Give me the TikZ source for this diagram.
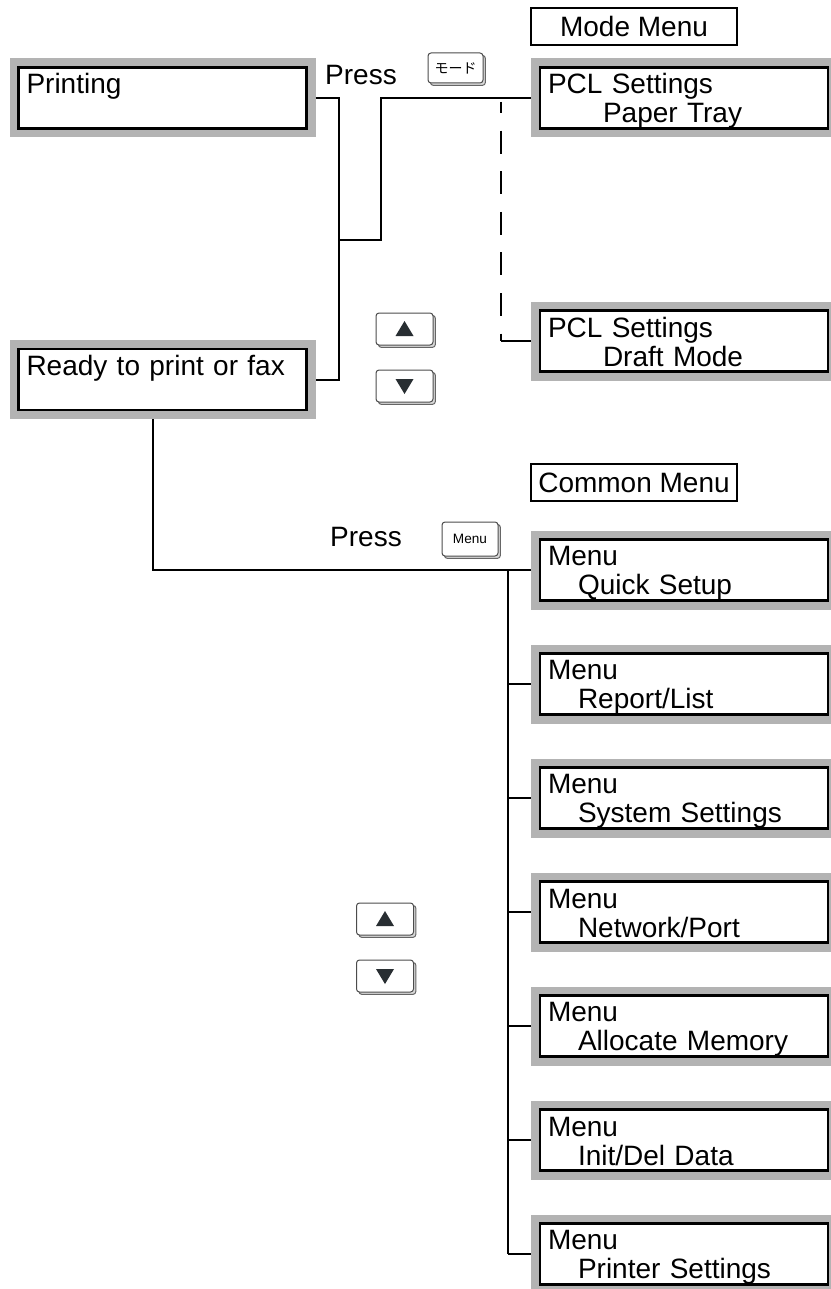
\documentclass[tikz,border=0pt]{standalone}
\usepackage{fontspec}
\setmainfont{Liberation Sans}
\newfontfamily\jpfont{Noto Sans CJK JP}
\usepackage{xcolor}
\usepackage{tikz}
\usetikzlibrary{positioning, shadows}

\definecolor{lcdgray}{RGB}{179,179,179}
\definecolor{keyink}{RGB}{40,46,50}

% two lines of a display panel, second line indented
\newcommand{\lcdlines}[3][0pt]{\rule{0pt}{13pt}#2\\\hspace*{#1}#3\rule[-2.5pt]{0pt}{2.5pt}}

\begin{document}
\begin{tikzpicture}[x=0.5pt, y=-0.5pt, node distance=17.5pt and 10pt,
		every node/.style={font=\fontsize{14}{14.5}\selectfont},
		lcd/.style={draw, line width=1.2pt, fill=white, preaction={draw=lcdgray, line width=9pt},
			minimum width=144pt, minimum height=30.5pt, text width=136pt, inner xsep=4pt, inner ysep=0pt,
			align=left, outer sep=4.5pt},
		title/.style={draw, line width=1pt, minimum width=103pt, minimum height=18.5pt, inner sep=0pt},
		keycap/.style={draw=black!70, line width=0.5pt, fill=white, rounded corners=1.5pt,
			minimum width=28.5pt, minimum height=16pt, inner sep=0pt,
			copy shadow={shadow xshift=1.2pt, shadow yshift=-1.2pt, fill=black!15, draw=black!60}},
		wire/.style={line width=1pt}]
		\useasboundingbox (0,0) rectangle (830,1289);
		
		% Titles
		\node[title] (modettl) at (634, 26.5) {Mode Menu};
		\node[title] (commonttl) at (634, 482.5) {Common Menu};
		
		% Panels
		\node[lcd] (printing) at (162.5, 98) {\lcdlines{Printing}{}};
		\node[lcd] (ready) at (162.5, 379.5) {\lcdlines{Ready to print or fax}{}};
		\node[lcd] (tray) at (684, 98) {\lcdlines[27.5pt]{PCL Settings}{Paper Tray}};
		\node[lcd] (draft) at (684, 341) {\lcdlines[27.5pt]{PCL Settings}{Draft Mode}};
		\node[lcd] (quick) at (684, 570) {\lcdlines[15pt]{Menu}{Quick Setup}};
		\node[lcd] (report) [below=of quick] {\lcdlines[15pt]{Menu}{Report/List}};
		\node[lcd] (system) [below=of report] {\lcdlines[15pt]{Menu}{System Settings}};
		\node[lcd] (network) [below=of system] {\lcdlines[15pt]{Menu}{Network/Port}};
		\node[lcd] (memory) [below=of network] {\lcdlines[15pt]{Menu}{Allocate Memory}};
		\node[lcd] (initdel) [below=of memory] {\lcdlines[15pt]{Menu}{Init/Del Data}};
		\node[lcd] (printer) [below=of initdel] {\lcdlines[15pt]{Menu}{Printer Settings}};
		
		% Keys
		\node (press1) at (361, 75) {Press};
		\node[keycap, minimum width=27.5pt, minimum height=15pt, font=\jpfont\fontsize{7}{7}\selectfont] (modekey) at (455.5, 68) {モード};
		\node[keycap] (upa) at (404.5, 329) {};
		\node[keycap] (downa) at (404.5, 386) {};
		\node (press2) at (366, 537) {Press};
		\node[keycap, minimum width=28pt, minimum height=17pt, font=\fontsize{6.8}{7}\selectfont] (menukey) at (470, 539) {Menu};
		\node[keycap] (upb) at (385, 919) {};
		\node[keycap] (downb) at (385, 976) {};
		\foreach \k in {upa, upb}
			\fill[keyink] ([shift={(-9,7)}]\k.center) -- ([shift={(9,7)}]\k.center) -- ([shift={(0,-8)}]\k.center) -- cycle;
		\foreach \k in {downa, downb}
			\fill[keyink] ([shift={(-9,-7)}]\k.center) -- ([shift={(9,-7)}]\k.center) -- ([shift={(0,8)}]\k.center) -- cycle;
		
		% Edges
		\coordinate (fork) at (338.5, 240);
		\coordinate (trayfeed) at (501, 102);
		\coordinate (draftbend) at (trayfeed |- draft.west);
		\coordinate (trunk) at (508, 0);
		\draw[wire] (printing.east) -- ++(23,0) |- (ready.east);
		\draw[wire] (fork) -- ++(42.5,0) |- (tray.west);
		\draw[wire, dash pattern=on 11.5pt off 8.8pt, dash phase=6pt] (trayfeed) -- (draftbend);
		\draw[wire] (draftbend) -- (draft.west);
		\draw[wire] ([xshift=-5pt]ready.south) |- (quick.west);
		\draw[wire] (quick.west -| trunk) -- (printer.west -| trunk);
		\foreach \m in {report, system, network, memory, initdel, printer}
			\draw[wire] (\m.west -| trunk) -- (\m.west);
	\end{tikzpicture}
\end{document}
